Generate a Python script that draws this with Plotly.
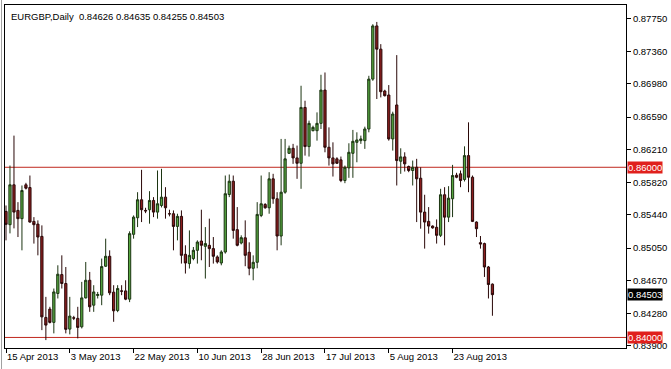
import pandas as pd
import plotly.graph_objects as go

# ---- data (EURGBP daily) ----
symbol_title = "EURGBP,Daily  0.84626 0.84635 0.84255 0.84503"

# trading days (MT4 feed incl. Sunday bars, no Saturdays)
all_days = pd.date_range("2013-04-15", "2013-09-04", freq="D")
dates = [d.strftime("%Y-%m-%d") for d in all_days if d.weekday() != 5]

opens = [0.85481, 0.85325, 0.85794, 0.85493, 0.85396, 0.85794, 0.85762, 0.85364, 0.85332, 0.85188,
         0.84235, 0.84333, 0.84177, 0.84517, 0.84739, 0.84634, 0.84098, 0.84231, 0.84224, 0.84125,
         0.84465, 0.84672, 0.84379, 0.84493, 0.84497, 0.84837, 0.84954, 0.84532, 0.84317, 0.84547,
         0.84547, 0.84450, 0.85212, 0.85407, 0.85618, 0.85493, 0.85501, 0.85610, 0.85473, 0.85551,
         0.85649, 0.85454, 0.85454, 0.85305, 0.85423, 0.84977, 0.84868, 0.84927, 0.85024, 0.85133,
         0.85071, 0.85083, 0.85044, 0.84946, 0.84875, 0.85004, 0.85680, 0.85836, 0.85267, 0.85110,
         0.85171, 0.85001, 0.84813, 0.84883, 0.85434, 0.85563, 0.85524, 0.85864, 0.85630, 0.85192,
         0.85707, 0.86164, 0.86223, 0.86110, 0.86047, 0.86703, 0.86243, 0.86430, 0.86430, 0.86516,
         0.86907, 0.86235, 0.86110, 0.86099, 0.86087, 0.85844, 0.85993, 0.86164, 0.86293, 0.86313,
         0.86313, 0.86450, 0.87036, 0.87661, 0.87388, 0.86896, 0.86849, 0.86333, 0.86732, 0.86071,
         0.86122, 0.86009, 0.85962, 0.86000, 0.85871, 0.85473, 0.85364, 0.85309, 0.85294, 0.85200,
         0.85677, 0.85414, 0.85630, 0.85907, 0.85923, 0.85856, 0.86137, 0.85883, 0.85356, 0.85114,
         0.85103, 0.84828, 0.84626]
highs = [0.85551, 0.86020, 0.86372, 0.85590, 0.85786, 0.85817, 0.85903, 0.85414, 0.85376, 0.85317,
         0.84477, 0.84360, 0.84575, 0.84848, 0.84965, 0.84828, 0.84477, 0.84254, 0.84360, 0.84653,
         0.84887, 0.84770, 0.84614, 0.84535, 0.84927, 0.85161, 0.85024, 0.84614, 0.84614, 0.84614,
         0.84672, 0.85247, 0.85434, 0.85707, 0.85970, 0.85524, 0.85719, 0.85649, 0.85962, 0.85982,
         0.85766, 0.85501, 0.85493, 0.85454, 0.85493, 0.85083, 0.85258, 0.85063, 0.85141, 0.85501,
         0.85297, 0.85396, 0.85180, 0.84965, 0.85024, 0.85903, 0.85915, 0.85903, 0.85532, 0.85200,
         0.85376, 0.85118, 0.84965, 0.85590, 0.85903, 0.85578, 0.85942, 0.85923, 0.85707, 0.86333,
         0.86333, 0.86255, 0.86275, 0.86255, 0.86958, 0.86782, 0.86548, 0.86489, 0.86645, 0.87087,
         0.87114, 0.86469, 0.86293, 0.86118, 0.86126, 0.86020, 0.86282, 0.86439, 0.86411, 0.86372,
         0.86477, 0.87075, 0.87681, 0.87708, 0.87447, 0.86911, 0.86966, 0.86653, 0.87318, 0.86223,
         0.86176, 0.86020, 0.86079, 0.86099, 0.86000, 0.85677, 0.85532, 0.85317, 0.85387, 0.85747,
         0.85766, 0.85778, 0.86028, 0.85935, 0.85962, 0.86246, 0.86528, 0.85903, 0.85364, 0.85192,
         0.85114, 0.84840, 0.84635]
lows = [0.85141, 0.85223, 0.85282, 0.85180, 0.85024, 0.85739, 0.85350, 0.85103, 0.84965, 0.84086,
        0.83969, 0.84165, 0.84048, 0.84458, 0.84575, 0.84048, 0.84036, 0.84204, 0.83989, 0.84106,
        0.84458, 0.84301, 0.84301, 0.84458, 0.84379, 0.84828, 0.84497, 0.84184, 0.84297, 0.84497,
        0.84438, 0.84415, 0.85161, 0.85297, 0.85356, 0.85461, 0.85337, 0.85414, 0.85396, 0.85528,
        0.85396, 0.85423, 0.85024, 0.85141, 0.84868, 0.84751, 0.84810, 0.84907, 0.84868, 0.84907,
        0.84692, 0.84828, 0.84868, 0.84868, 0.84848, 0.84985, 0.85649, 0.85161, 0.85071, 0.85094,
        0.84837, 0.84731, 0.84672, 0.84813, 0.85414, 0.85513, 0.85454, 0.85571, 0.85024, 0.85083,
        0.85689, 0.86157, 0.86040, 0.85864, 0.85747, 0.86137, 0.86126, 0.86422, 0.86313, 0.86450,
        0.86176, 0.86020, 0.85891, 0.86040, 0.85825, 0.85813, 0.85876, 0.85876, 0.86059, 0.86275,
        0.86216, 0.86411, 0.87016, 0.86802, 0.86821, 0.86832, 0.86313, 0.86196, 0.85786, 0.85923,
        0.85950, 0.85942, 0.85786, 0.85356, 0.85278, 0.85044, 0.85220, 0.85278, 0.85103, 0.85180,
        0.85083, 0.85356, 0.85414, 0.85871, 0.85766, 0.85833, 0.85707, 0.85356, 0.85180, 0.85044,
        0.84711, 0.84458, 0.84255]
closes = [0.85329, 0.85794, 0.85473, 0.85396, 0.85727, 0.85754, 0.85356, 0.85325, 0.85180, 0.84242,
          0.84145, 0.84177, 0.84535, 0.84743, 0.84634, 0.84095, 0.84251, 0.84227, 0.84118, 0.84465,
          0.84672, 0.84360, 0.84535, 0.84505, 0.84833, 0.84954, 0.84524, 0.84313, 0.84575, 0.84544,
          0.84450, 0.85220, 0.85414, 0.85618, 0.85501, 0.85487, 0.85610, 0.85473, 0.85571, 0.85649,
          0.85524, 0.85452, 0.85305, 0.85423, 0.84965, 0.84875, 0.84965, 0.85024, 0.85121, 0.85083,
          0.85103, 0.85044, 0.84954, 0.84887, 0.85004, 0.85689, 0.85836, 0.85258, 0.85083, 0.85173,
          0.84965, 0.84813, 0.84883, 0.85446, 0.85571, 0.85524, 0.85864, 0.85630, 0.85192, 0.85707,
          0.86099, 0.86223, 0.86110, 0.86047, 0.86703, 0.86243, 0.86516, 0.86469, 0.86516, 0.86907,
          0.86235, 0.86110, 0.86040, 0.86047, 0.85844, 0.86000, 0.86176, 0.86305, 0.86321, 0.86333,
          0.86450, 0.87036, 0.87661, 0.87388, 0.86888, 0.86841, 0.86333, 0.86626, 0.86079, 0.86122,
          0.86040, 0.85962, 0.86000, 0.85864, 0.85473, 0.85356, 0.85309, 0.85288, 0.85200, 0.85677,
          0.85414, 0.85637, 0.85903, 0.85883, 0.85844, 0.86137, 0.85883, 0.85364, 0.85278, 0.85098,
          0.84828, 0.84622, 0.84503]

# axis ticks
y_ticks = [0.87750, 0.87360, 0.86980, 0.86590, 0.86210, 0.85820, 0.85440, 0.85050, 0.84670, 0.84280, 0.83900]
x_tick_dates = ["2013-04-15", "2013-05-03", "2013-05-22", "2013-06-10",
                "2013-06-28", "2013-07-17", "2013-08-05", "2013-08-23"]
x_tick_text = ["15 Apr 2013", "3 May 2013", "22 May 2013", "10 Jun 2013",
               "28 Jun 2013", "17 Jul 2013", "5 Aug 2013", "23 Aug 2013"]

# horizontal levels
levels = [0.86000, 0.84000]
last_close = closes[-1]

FONT = "Liberation Sans, Arial, sans-serif"

fig = go.Figure()
fig.add_trace(go.Candlestick(
    x=dates, open=opens, high=highs, low=lows, close=closes,
    increasing=dict(fillcolor="#55a63f", line=dict(color="#1c3512", width=1)),
    decreasing=dict(fillcolor="#8b1e1e", line=dict(color="#2a0808", width=1)),
    whiskerwidth=0, hoverinfo="skip", showlegend=False,
))

for lv in levels:
    fig.add_shape(type="line", xref="paper", x0=0, x1=1, yref="y", y0=lv, y1=lv,
                  line=dict(color="#c0281e", width=1), layer="below")
    fig.add_annotation(xref="paper", x=1, xanchor="left", xshift=1, yref="y", y=lv,
                       yanchor="middle", text=f"{lv:.5f}", showarrow=False,
                       bgcolor="#e0201c", font=dict(color="white", size=9.5, family=FONT),
                       borderpad=0)

fig.add_annotation(xref="paper", x=1, xanchor="left", xshift=1, yref="y", y=last_close,
                   yanchor="middle", text=f"{last_close:.5f}", showarrow=False,
                   bgcolor="#000000", font=dict(color="white", size=9.5, family=FONT),
                   borderpad=0)

fig.add_annotation(xref="paper", x=0, xanchor="left", xshift=4, yref="paper", y=1,
                   yanchor="top", yshift=-4, text=symbol_title, showarrow=False,
                   font=dict(color="black", size=9.5, family=FONT))

# light frame at the window's left edge
fig.add_shape(type="line", xref="paper", x0=-0.0056, x1=-0.0056, yref="paper", y0=-0.07, y1=1.02,
              line=dict(color="#a0a0a0", width=1))

fig.update_layout(
    width=671, height=369,
    margin=dict(l=4, r=44, t=4, b=21),
    paper_bgcolor="white", plot_bgcolor="white",
    boxgap=0.2,
    font=dict(family=FONT, size=9.5, color="black"),
    xaxis=dict(
        type="category", categoryorder="array", categoryarray=dates,
        range=[-0.25, 155.5],
        rangeslider=dict(visible=False),
        showgrid=False, zeroline=False,
        showline=True, mirror=True, linecolor="black", linewidth=1,
        ticks="outside", ticklen=4, tickcolor="black",
        tickvals=x_tick_dates, ticktext=x_tick_text,
        ticklabelposition="outside right",
        tickfont=dict(size=9.5, family=FONT, color="black"),
    ),
    yaxis=dict(
        side="right", range=[0.83876, 0.87907],
        showgrid=False, zeroline=False,
        showline=True, mirror=True, linecolor="black", linewidth=1,
        ticks="outside", ticklen=4, tickcolor="black",
        tickvals=y_ticks, ticktext=[f"{v:.5f}" for v in y_ticks],
        tickfont=dict(size=9.5, family=FONT, color="black"),
    ),
)

fig.write_html("out.html")
